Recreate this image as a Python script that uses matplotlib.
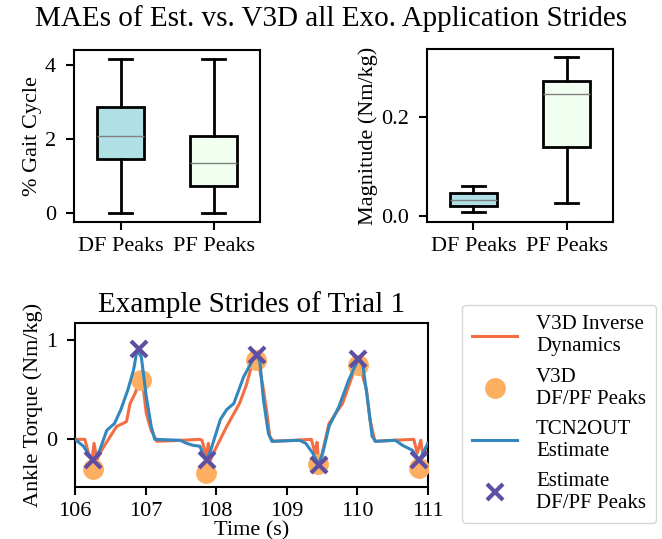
import matplotlib
matplotlib.use("Agg")
import matplotlib.pyplot as plt
import numpy as np

plt.rcParams['font.family'] = ['Liberation Serif', 'DejaVu Serif']

# ---- Box stats ----
box_labels = ["DF Peaks", "PF Peaks"]
time_whislo = [0.0, 0.0]
time_q1 = [1.455, 0.72]
time_med = [2.09, 1.355]
time_q3 = [2.87, 2.09]
time_whishi = [4.18, 4.16]

mag_whislo = [0.007, 0.025]
mag_q1 = [0.020, 0.140]
mag_med = [0.033, 0.247]
mag_q3 = [0.047, 0.274]
mag_whishi = [0.060, 0.322]

box_colors = ["#b0e0e6", "#f0fff0"]

# ---- Time series ----
v3d_t = [106.0, 106.14, 106.19, 106.24, 106.27, 106.31, 106.35, 106.50, 106.59, 106.68, 106.73,
         106.78, 106.85, 106.92, 106.97, 107.01, 107.08, 107.16, 107.5, 107.77, 107.80, 107.86,
         107.89, 107.92, 107.96, 108.15, 108.33, 108.42, 108.52, 108.57, 108.62, 108.67, 108.72,
         108.76, 108.81, 109.1, 109.35, 109.40, 109.43, 109.45, 109.50, 109.60, 109.79, 109.94,
         110.01, 110.06, 110.13, 110.18, 110.25, 110.5, 110.80, 110.85, 110.90, 110.93, 111.0]
v3d_y = [0.0, 0.0, -0.14, -0.21, -0.04, -0.21, -0.14, 0.03, 0.13, 0.16, 0.18,
         0.36, 0.46, 0.60, 0.50, 0.26, 0.09, -0.02, -0.01, 0.0, -0.01, -0.17,
         -0.04, -0.21, -0.14, 0.13, 0.36, 0.53, 0.78, 0.80, 0.70, 0.50, 0.26,
         0.03, -0.02, -0.01, 0.0, -0.14, -0.03, -0.21, -0.15, 0.16, 0.36, 0.66,
         0.76, 0.68, 0.50, 0.20, -0.02, -0.01, 0.0, -0.14, -0.01, -0.17, -0.04]

est_t = [106.0, 106.12, 106.21, 106.26, 106.35, 106.45, 106.56, 106.65, 106.75, 106.83, 106.88,
         106.94, 107.01, 107.08, 107.13, 107.49, 107.58, 107.67, 107.77, 107.85, 107.91, 108.06,
         108.15, 108.25, 108.39, 108.52, 108.58, 108.62, 108.67, 108.74, 108.79, 109.18, 109.27,
         109.37, 109.45, 109.51, 109.60, 109.74, 109.88, 110.01, 110.04, 110.08, 110.14, 110.21,
         110.26, 110.54, 110.64, 110.78, 110.88, 111.0]
est_y = [0.0, -0.07, -0.17, -0.22, -0.11, 0.09, 0.16, 0.30, 0.50, 0.70, 0.90,
         0.83, 0.43, 0.13, 0.0, -0.01, -0.04, -0.06, -0.07, -0.21, -0.14, 0.20,
         0.30, 0.36, 0.63, 0.80, 0.84, 0.78, 0.40, 0.06, -0.02, -0.01, -0.04,
         -0.14, -0.25, -0.14, 0.13, 0.33, 0.60, 0.80, 0.81, 0.74, 0.43, 0.03,
         -0.02, -0.01, -0.06, -0.11, -0.21, -0.04]

v3d_pk_t = [106.25, 106.93, 107.86, 108.56, 109.45, 110.01, 110.87]
v3d_pk_y = [-0.30, 0.60, -0.34, 0.80, -0.25, 0.75, -0.29]
est_pk_t = [106.26, 106.90, 107.87, 108.58, 109.46, 110.01, 110.88]
est_pk_y = [-0.21, 0.91, -0.21, 0.85, -0.26, 0.81, -0.21]

FS = 16
TS = 21

fig = plt.figure(figsize=(6.62, 5.39), dpi=100)
fig.suptitle("MAEs of Est. vs. V3D all Exo. Application Strides", fontsize=TS, y=0.99)

def make_stats(lo, q1, med, q3, hi):
    return [dict(whislo=lo[i], q1=q1[i], med=med[i], q3=q3[i], whishi=hi[i], fliers=[], label=box_labels[i])
            for i in range(len(lo))]

def style_axes(ax):
    for s in ax.spines.values():
        s.set_linewidth(1.5)
    ax.tick_params(labelsize=FS, width=1.5, length=6)
    ax.tick_params(axis='y', pad=7)
    ax.tick_params(axis='x', pad=5)

def draw_box(ax, stats):
    bp = ax.bxp(stats, widths=0.5, patch_artist=True, showfliers=False,
                boxprops=dict(linewidth=2, edgecolor='black'),
                whiskerprops=dict(linewidth=2), capprops=dict(linewidth=2),
                medianprops=dict(color='grey', linewidth=1))
    for patch, c in zip(bp['boxes'], box_colors):
        patch.set_facecolor(c)
    style_axes(ax)

ax1 = fig.add_axes([0.1118, 0.588, 0.281, 0.319])
draw_box(ax1, make_stats(time_whislo, time_q1, time_med, time_q3, time_whishi))
ax1.set_ylim(-0.25, 4.41)
ax1.set_xlim(0.5, 2.5)
ax1.set_yticks([0, 2, 4])
ax1.set_ylabel("% Gait Cycle", fontsize=FS, labelpad=2)

ax2 = fig.add_axes([0.645, 0.588, 0.281, 0.321])
draw_box(ax2, make_stats(mag_whislo, mag_q1, mag_med, mag_q3, mag_whishi))
ax2.set_ylim(-0.0128, 0.339)
ax2.set_xlim(0.5, 2.5)
ax2.set_yticks([0.0, 0.2])
ax2.set_ylabel("Magnitude (Nm/kg)", fontsize=FS, labelpad=2)

ax3 = fig.add_axes([0.1133, 0.0965, 0.533, 0.304])
ax3.plot(v3d_t, v3d_y, color="#f46d43", lw=2.2, label="V3D Inverse\nDynamics")
ax3.plot(v3d_pk_t, v3d_pk_y, 'o', color="#fdae61", ms=14, label="V3D\nDF/PF Peaks", zorder=3)
ax3.plot(est_t, est_y, color="#3288bd", lw=2.2, label="TCN2OUT\nEstimate", zorder=4)
ax3.plot(est_pk_t, est_pk_y, 'x', color="#5e4fa2", ms=12, mew=3, label="Estimate\nDF/PF Peaks", zorder=5)
ax3.set_xlim(106, 111)
ax3.set_ylim(-0.48, 1.17)
ax3.set_yticks([0, 1])
ax3.set_xticks([106, 107, 108, 109, 110, 111])
ax3.set_title("Example Strides of Trial 1", fontsize=TS, pad=8)
ax3.set_xlabel("Time (s)", fontsize=FS, labelpad=0)
ax3.set_ylabel("Ankle Torque (Nm/kg)", fontsize=FS, labelpad=2)
style_axes(ax3)

handles, labels = ax3.get_legend_handles_labels()
fig.legend(handles, labels, loc='upper left', bbox_to_anchor=(0.698, 0.434),
           borderaxespad=0, fontsize=15, frameon=True, edgecolor='#cccccc', fancybox=True,
           labelspacing=0.55, handlelength=2.15, handletextpad=0.9, borderpad=0.5)

fig.savefig("out.png", dpi=100)
